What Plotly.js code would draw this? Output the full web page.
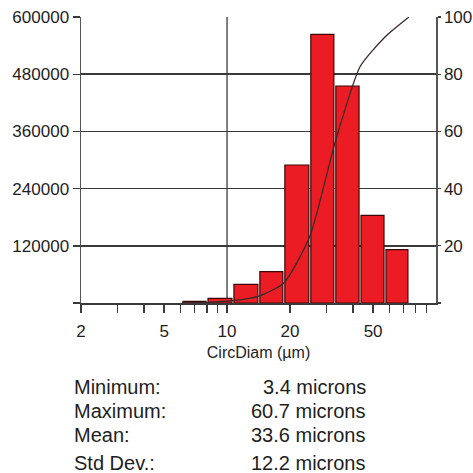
<!DOCTYPE html>
<html>
<head>
<meta charset="utf-8">
<script src="https://cdn.plot.ly/plotly-3.0.1.min.js"></script>
<style>
  html, body { margin: 0; padding: 0; background: #ffffff; }
  #chart { width: 473px; height: 473px; }
</style>
</head>
<body>
<div id="chart"></div>
<script>
// ---- Data ----
var binEdges = [6.09, 8.02, 10.67, 14.2, 18.7, 24.9, 32.8, 43.3, 57.0, 74.2];   // µm
var counts   = [3600, 9900, 39200, 65700, 289500, 563700, 455200, 184000, 111800];
var cumPct   = [0, 0.2, 0.8, 2.4, 7.0, 23.3, 55.8, 82.6, 93.0, 100];           // % at bin edges

var xTickVals   = [2, 5, 10, 20, 50];
var xTickText   = ['2', '5', '10', '20', '50'];
var xMinorVals  = [3, 4, 6, 7, 8, 9, 30, 40, 60, 70, 80, 90];
var yTickVals   = [0, 120000, 240000, 360000, 480000, 600000];
var yTickText   = ['', '120000', '240000', '360000', '480000', '600000'];
var y2TickVals  = [0, 20, 40, 60, 80, 100];
var y2TickText  = ['', '20', '40', '60', '80', '100'];

var statLabels = ['Minimum:', 'Maximum:', 'Mean:', 'Std Dev.:'];
var statValues = [3.4, 60.7, 33.6, 12.2];
var statUnit   = 'microns';

// ---- Styles ----
var FONT = 'Liberation Sans, Arial, Helvetica, sans-serif';
var TXT = '#1e1e1e';
var AX = '#3a3a3a';
var BAR_GAP = 1.011;   // multiplicative inset of each bar on the log axis

// bars as closed polygons on the log axis
var bx = [], by = [];
for (var i = 0; i < counts.length; i++) {
  var lo = binEdges[i] * BAR_GAP, hi = binEdges[i + 1] / BAR_GAP;
  bx.push(lo, lo, hi, hi, lo, null);
  by.push(0, counts[i], counts[i], 0, 0, null);
}

var bars = {
  type: 'scatter', mode: 'lines', x: bx, y: by,
  fill: 'toself', fillcolor: '#ec1c24',
  line: { color: '#3a0808', width: 1.2 },
  xaxis: 'x', yaxis: 'y', hoverinfo: 'skip', showlegend: false
};

var cum = {
  type: 'scatter', mode: 'lines', x: binEdges, y: cumPct,
  line: { color: '#3a2a2a', width: 1.3, shape: 'spline', smoothing: 0.6 },
  xaxis: 'x', yaxis: 'y2', showlegend: false
};

var annotations = [];
var rowY = [-0.294, -0.376, -0.463, -0.558];
for (var k = 0; k < statLabels.length; k++) {
  annotations.push({
    xref: 'paper', yref: 'paper', x: -0.026, y: rowY[k],
    xanchor: 'left', yanchor: 'middle', showarrow: false,
    text: statLabels[k], font: { family: FONT, size: 20, color: TXT }
  });
  annotations.push({
    xref: 'paper', yref: 'paper', x: 0.8085, y: rowY[k],
    xanchor: 'right', yanchor: 'middle', showarrow: false,
    text: statValues[k].toFixed(1) + ' ' + statUnit,
    font: { family: FONT, size: 20, color: TXT }
  });
}

var layout = {
  width: 473, height: 473,
  margin: { l: 81, r: 37, t: 17, b: 170 },
  paper_bgcolor: '#ffffff', plot_bgcolor: '#ffffff',
  showlegend: false,
  font: { family: FONT, color: TXT, size: 17 },
  xaxis: {
    type: 'log', range: [Math.log10(2), 2], autorange: false,
    tickmode: 'array', tickvals: xTickVals, ticktext: xTickText,
    ticks: 'outside', ticklen: 8, tickwidth: 1.4, tickcolor: AX,
    ticklabelstandoff: 4,
    showgrid: false, zeroline: false,
    showline: true, linecolor: AX, linewidth: 1.5,
    minor: { tickmode: 'array', tickvals: xMinorVals, ticks: 'outside', ticklen: 8, tickwidth: 1.4, tickcolor: AX, showgrid: false },
    tickfont: { family: FONT, size: 17, color: TXT },
    title: { text: 'CircDiam (µm)', font: { family: FONT, size: 16, color: TXT }, standoff: 7 },
    automargin: false, fixedrange: true
  },
  yaxis: {
    range: [0, 600000], autorange: false,
    tickmode: 'array', tickvals: yTickVals, ticktext: yTickText,
    ticks: 'outside', ticklen: 7, tickwidth: 1.4, tickcolor: AX,
    showgrid: true, gridcolor: AX, gridwidth: 1.5,
    zeroline: false, showline: true, linecolor: '#555', linewidth: 1.5,
    tickfont: { family: FONT, size: 17, color: TXT },
    automargin: false, fixedrange: true
  },
  yaxis2: {
    overlaying: 'y', side: 'right', anchor: 'x',
    range: [0, 100], autorange: false,
    tickmode: 'array', tickvals: y2TickVals, ticktext: y2TickText,
    ticks: 'outside', ticklen: 3, tickwidth: 1.2, tickcolor: AX,
    showgrid: false, zeroline: false,
    showline: true, linecolor: '#555', linewidth: 1.5,
    tickfont: { family: FONT, size: 17, color: TXT },
    automargin: false, fixedrange: true
  },
  shapes: [
    { type: 'line', xref: 'x', yref: 'paper', x0: 10, x1: 10, y0: 0, y1: 1,
      line: { color: '#555', width: 1.5 }, layer: 'below' }
  ],
  annotations: annotations
};

Plotly.newPlot('chart', [bars, cum], layout, { displayModeBar: false, staticPlot: true });
</script>
</body>
</html>
